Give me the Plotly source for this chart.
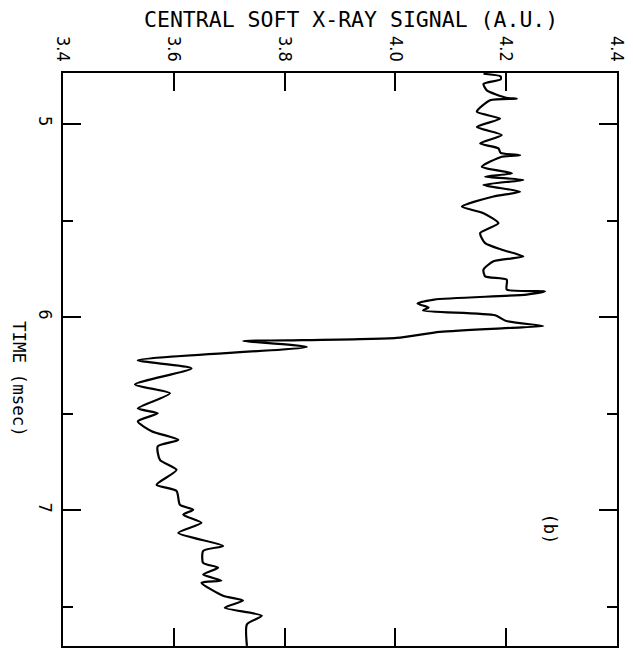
import plotly.graph_objects as go

# Time (msec) and central soft X-ray signal (A.U.)
time_ms = [
    4.741, 4.755, 4.770, 4.793, 4.827, 4.865, 4.870, 4.878, 4.938, 4.973,
    5.016, 5.058, 5.101, 5.127, 5.150, 5.162, 5.170, 5.222, 5.256, 5.273,
    5.290, 5.316, 5.351, 5.376, 5.428, 5.462, 5.514, 5.565, 5.617, 5.651,
    5.686, 5.711, 5.754, 5.789, 5.806, 5.857, 5.866, 5.883, 5.909, 5.930,
    5.950, 5.965, 5.990, 6.020, 6.046, 6.055, 6.076, 6.107, 6.120, 6.123,
    6.154, 6.223, 6.265, 6.348, 6.394, 6.472, 6.497, 6.539, 6.590, 6.635,
    6.668, 6.738, 6.790, 6.867, 6.899, 6.970, 6.996, 7.022, 7.064, 7.116,
    7.183, 7.209, 7.271, 7.296, 7.331, 7.363, 7.374, 7.441, 7.466, 7.503,
    7.544, 7.589, 7.700,
]
signal = [
    4.159, 4.190, 4.190, 4.159, 4.165, 4.200, 4.219, 4.171, 4.147, 4.189,
    4.147, 4.192, 4.153, 4.186, 4.190, 4.225, 4.192, 4.156, 4.210, 4.162,
    4.231, 4.159, 4.225, 4.177, 4.120, 4.159, 4.186, 4.153, 4.162, 4.192,
    4.231, 4.177, 4.159, 4.162, 4.201, 4.201, 4.270, 4.237, 4.070, 4.040,
    4.060, 4.050, 4.180, 4.200, 4.267, 4.210, 4.080, 4.002, 3.804, 3.725,
    3.840, 3.535, 3.632, 3.530, 3.593, 3.535, 3.571, 3.535, 3.560, 3.608,
    3.571, 3.575, 3.605, 3.569, 3.605, 3.611, 3.635, 3.617, 3.650, 3.608,
    3.689, 3.653, 3.653, 3.680, 3.653, 3.686, 3.650, 3.689, 3.725, 3.692,
    3.759, 3.732, 3.732,
]

x_ticks = [3.4, 3.6, 3.8, 4.0, 4.2, 4.4]
x_tick_text = ["3.4", "3.6", "3.8", "4.0", "4.2", "4.4"]
t_major = [5, 6, 7]
t_major_text = ["5", "6", "7"]
t_minor = [5.5, 6.5, 7.5]

MONO = "DejaVu Sans Mono"
COND = "DejaVu Sans Condensed, DejaVu Sans Mono"

fig = go.Figure()
fig.add_trace(go.Scatter(
    x=signal, y=time_ms, mode="lines",
    line=dict(color="black", width=2.2, shape="spline", smoothing=0.6),
    showlegend=False, hoverinfo="skip",
))

fig.update_layout(
    width=633, height=651,
    margin=dict(l=63, r=16, t=73, b=3),
    paper_bgcolor="white", plot_bgcolor="white",
    font=dict(family=MONO, color="black"),
    xaxis=dict(
        range=[3.4, 4.4], side="top",
        tickvals=x_ticks, ticktext=x_tick_text, tickangle=90,
        ticks="inside", ticklen=18, tickwidth=2, tickcolor="black",
        showline=True, linecolor="black", linewidth=2, mirror="ticks",
        showgrid=False, zeroline=False,
        tickfont=dict(family=COND, size=18, color="black"),
        ticklabelstandoff=3,
    ),
    yaxis=dict(
        range=[7.701, 4.737],
        tickvals=t_major, ticktext=t_major_text, tickangle=90,
        ticks="inside", ticklen=18, tickwidth=2, tickcolor="black",
        minor=dict(tickvals=t_minor, ticks="inside", ticklen=10,
                   tickwidth=2, tickcolor="black", showgrid=False),
        showline=True, linecolor="black", linewidth=2, mirror="ticks",
        showgrid=False, zeroline=False,
        tickfont=dict(family=COND, size=18, color="black"),
        ticklabelstandoff=0,
    ),
    annotations=[
        dict(text="CENTRAL SOFT X-RAY SIGNAL (A.U.)", xref="paper", yref="paper",
             x=(351 - 63) / 554, y=(648 - 19) / 575, xanchor="center", yanchor="middle",
             showarrow=False, font=dict(family=MONO, size=21.5, color="black")),
        dict(text="TIME (msec)", xref="paper", yref="paper",
             x=(19 - 63) / 554, y=(648 - 380) / 575, xanchor="center", yanchor="middle",
             showarrow=False, textangle=90,
             font=dict(family=MONO, size=17.5, color="black")),
        dict(text="(b)", xref="paper", yref="paper",
             x=(550 - 63) / 554, y=(648 - 530) / 575, xanchor="center", yanchor="middle",
             showarrow=False, textangle=90,
             font=dict(family=MONO, size=17, color="black")),
    ],
)

fig.write_html("out.html")
